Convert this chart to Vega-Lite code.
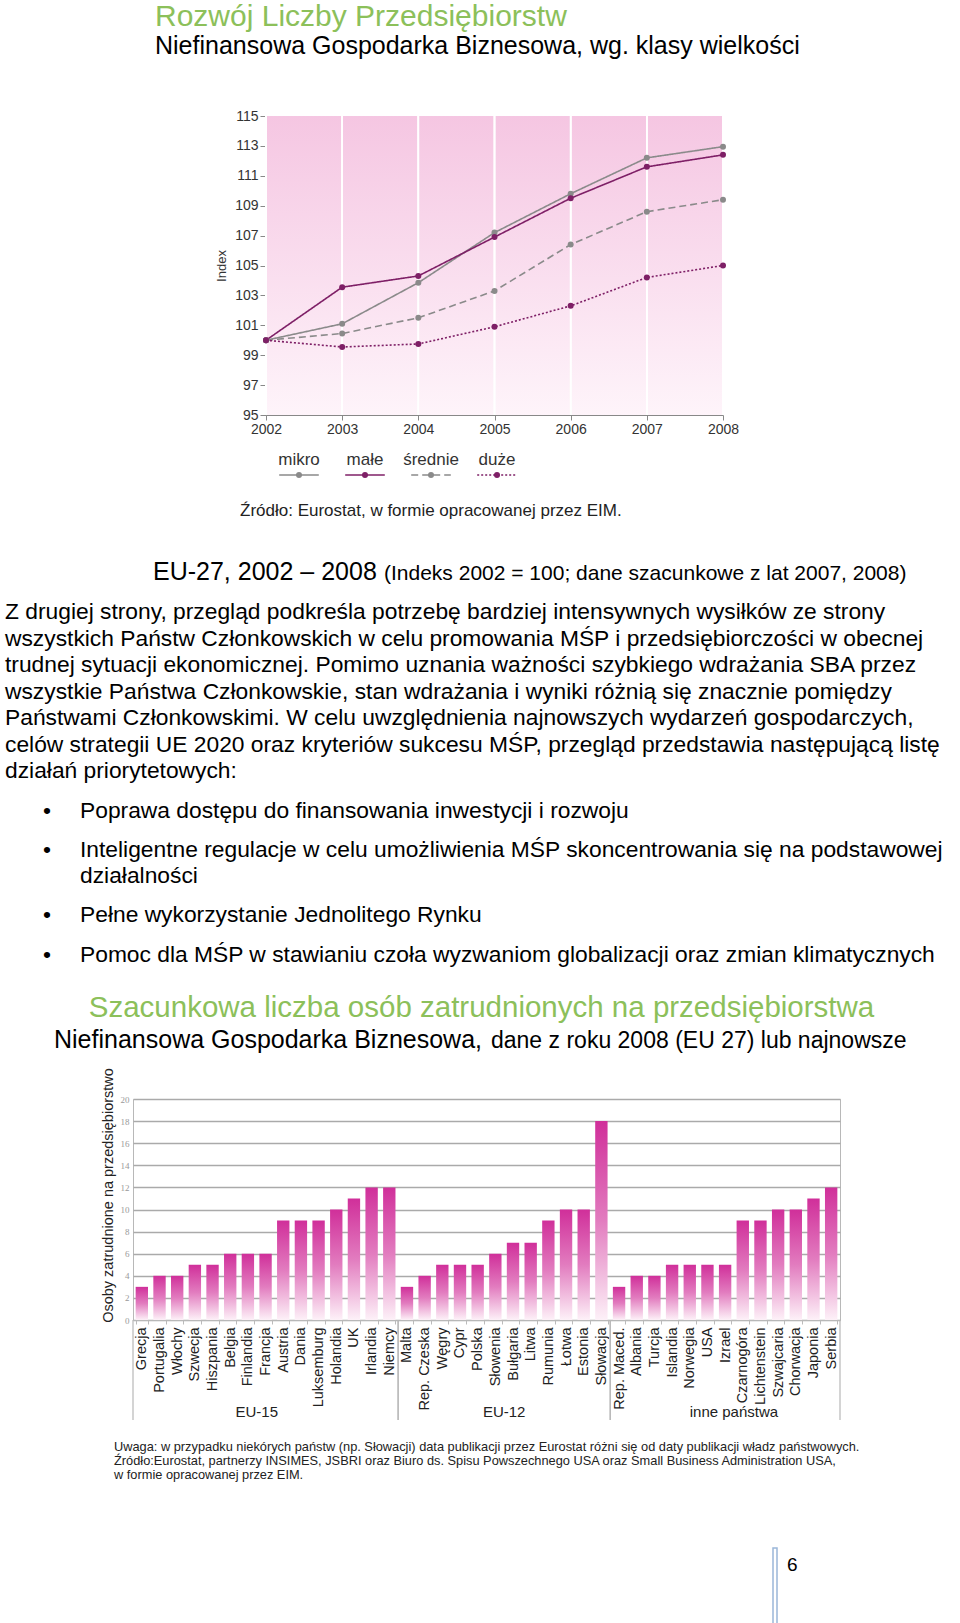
{
  "$schema": "https://vega.github.io/schema/vega-lite/v6.json",
  "padding": 0,
  "background": "white",
  "spacing": 0,
  "bounds": "full",
  "config": {
    "font": "Liberation Sans",
    "view": {"stroke": null},
    "title": {"font": "Liberation Sans", "subtitleFont": "Liberation Sans", "fontWeight": "normal", "subtitleFontWeight": "normal", "anchor": "start", "frame": "group", "orient": "top", "color": "#000000", "subtitleColor": "#000000"},
    "axis": {"titleFontWeight": "normal", "labelFont": "Liberation Sans", "titleFont": "Liberation Sans"}
  },
  "vconcat": [
    {
      "width": 960, "height": 97,
      "data": {"values": []}, "mark": "point",
      "title": {"text": "Rozwój Liczby Przedsiębiorstw", "subtitle": "Niefinansowa Gospodarka Biznesowa, wg. klasy wielkości", "fontSize": 30, "color": "#8cc05a", "subtitleFontSize": 25, "subtitlePadding": 2, "dx": 155, "offset": -59}
    },
    {
      "spacing": 0, "bounds": "flush",
      "hconcat": [
        {"width": 266, "height": 383, "data": {"values": []}, "mark": "point"},
        {
          "spacing": 0, "bounds": "flush",
          "vconcat": [
            {"width": 457, "height": 19, "data": {"values": []}, "mark": "point"},
            {
              "width": 457, "height": 299,
              "data": {"values": [
                {"series": "mikro", "year": 2002, "index": 100},
                {"series": "mikro", "year": 2003, "index": 101.1},
                {"series": "mikro", "year": 2004, "index": 103.85},
                {"series": "mikro", "year": 2005, "index": 107.2},
                {"series": "mikro", "year": 2006, "index": 109.8},
                {"series": "mikro", "year": 2007, "index": 112.2},
                {"series": "mikro", "year": 2008, "index": 112.95},
                {"series": "małe", "year": 2002, "index": 100},
                {"series": "małe", "year": 2003, "index": 103.55},
                {"series": "małe", "year": 2004, "index": 104.3},
                {"series": "małe", "year": 2005, "index": 106.9},
                {"series": "małe", "year": 2006, "index": 109.5},
                {"series": "małe", "year": 2007, "index": 111.6},
                {"series": "małe", "year": 2008, "index": 112.4},
                {"series": "średnie", "year": 2002, "index": 100},
                {"series": "średnie", "year": 2003, "index": 100.45},
                {"series": "średnie", "year": 2004, "index": 101.5},
                {"series": "średnie", "year": 2005, "index": 103.3},
                {"series": "średnie", "year": 2006, "index": 106.4},
                {"series": "średnie", "year": 2007, "index": 108.6},
                {"series": "średnie", "year": 2008, "index": 109.4},
                {"series": "duże", "year": 2002, "index": 100},
                {"series": "duże", "year": 2003, "index": 99.55},
                {"series": "duże", "year": 2004, "index": 99.75},
                {"series": "duże", "year": 2005, "index": 100.9},
                {"series": "duże", "year": 2006, "index": 102.3},
                {"series": "duże", "year": 2007, "index": 104.2},
                {"series": "duże", "year": 2008, "index": 105.0}
              ]},
              "layer": [
                {
                  "data": {"values": [{}]},
                  "mark": {"type": "rect", "fill": {"gradient": "linear", "x1": 0, "y1": 0, "x2": 0, "y2": 1, "stops": [{"offset": 0, "color": "#f5c6e2"}, {"offset": 1, "color": "#fef4fa"}]}, "stroke": null},
                  "encoding": {
                    "x": {"datum": 2002, "type": "quantitative", "scale": {"domain": [2002, 2008], "nice": false, "zero": false},
                      "axis": {"values": [2002, 2003, 2004, 2005, 2006, 2007, 2008], "tickCount": 7, "format": "d", "title": null, "grid": false, "labelFontSize": 14, "labelColor": "#333333", "domainColor": "#888888", "tickColor": "#888888", "tickSize": 5, "labelPadding": 2, "labelFlush": false, "labelOverlap": false}},
                    "x2": {"datum": 2008},
                    "y": {"datum": 95, "type": "quantitative", "scale": {"domain": [95, 115], "nice": false, "zero": false},
                      "axis": {"values": [95, 97, 99, 101, 103, 105, 107, 109, 111, 113, 115], "tickCount": 11, "title": "Index", "titleFontSize": 13, "titleColor": "#333333", "titlePadding": 6, "grid": false, "labelFontSize": 14, "labelColor": "#333333", "domainColor": "#888888", "tickColor": "#888888", "tickSize": 6, "labelPadding": 2, "labelOverlap": false}},
                    "y2": {"datum": 115}
                  }
                },
                {
                  "mark": {"type": "rule", "color": "#ffffff", "strokeWidth": 1.5},
                  "encoding": {"x": {"field": "year", "type": "quantitative"}}
                },
                {
                  "mark": {"type": "line", "strokeWidth": 1.6},
                  "encoding": {
                    "x": {"field": "year", "type": "quantitative"},
                    "y": {"field": "index", "type": "quantitative"},
                    "color": {"field": "series", "type": "nominal", "scale": {"domain": ["mikro", "małe", "średnie", "duże"], "range": ["#8a8a8a", "#7e1f66", "#8a8a8a", "#7e1f66"]}, "legend": null},
                    "strokeDash": {"field": "series", "type": "nominal", "scale": {"domain": ["mikro", "małe", "średnie", "duże"], "range": [[1, 0], [1, 0], [7, 4], [2, 2]]}, "legend": null}
                  }
                },
                {
                  "mark": {"type": "circle", "size": 36, "opacity": 1},
                  "encoding": {
                    "x": {"field": "year", "type": "quantitative"},
                    "y": {"field": "index", "type": "quantitative"},
                    "color": {"field": "series", "type": "nominal", "legend": null}
                  }
                }
              ]
            },
            {"width": 264, "height": 55, "data": {"values": []}, "mark": "point"},
            {
              "width": 264, "height": 10,
              "data": {"values": [{"series": "mikro"}, {"series": "małe"}, {"series": "średnie"}, {"series": "duże"}]},
              "layer": [
                {
                  "mark": {"type": "rule", "strokeWidth": 1.6},
                  "encoding": {
                    "x": {"field": "series", "type": "nominal", "bandPosition": 0.2, "sort": null,
                      "scale": {"type": "band", "domain": ["mikro", "małe", "średnie", "duże"], "paddingInner": 0, "paddingOuter": 0},
                      "axis": {"orient": "top", "title": null, "domain": false, "ticks": false, "labelFontSize": 17, "labelColor": "#333333", "labelPadding": 2, "labelAngle": 0}},
                    "x2": {"field": "series", "bandPosition": 0.8},
                    "color": {"field": "series", "type": "nominal", "scale": {"domain": ["mikro", "małe", "średnie", "duże"], "range": ["#8a8a8a", "#7e1f66", "#8a8a8a", "#7e1f66"]}, "legend": null},
                    "strokeDash": {"field": "series", "type": "nominal", "scale": {"domain": ["mikro", "małe", "średnie", "duże"], "range": [[1, 0], [1, 0], [7, 4], [2, 2]]}, "legend": null}
                  }
                },
                {
                  "mark": {"type": "circle", "size": 36, "opacity": 1},
                  "encoding": {
                    "x": {"field": "series", "type": "nominal", "sort": null},
                    "color": {"field": "series", "type": "nominal", "legend": null}
                  }
                }
              ]
            }
          ]
        }
      ]
    },
    {
      "width": 960, "height": 45,
      "data": {"values": []}, "mark": "point",
      "title": {"text": "Źródło: Eurostat, w formie opracowanej przez EIM.", "fontSize": 17, "color": "#222222", "dx": 240, "offset": -40}
    },
    {
      "spacing": 0, "bounds": "flush",
      "hconcat": [
        {"width": 384, "height": 65, "data": {"values": []}, "mark": "point",
          "title": {"text": "EU-27, 2002 – 2008", "fontSize": 25, "dx": 153, "offset": -60}},
        {"width": 576, "height": 65, "data": {"values": []}, "mark": "point",
          "title": {"text": "(Indeks 2002 = 100; dane szacunkowe z lat 2007, 2008)", "fontSize": 21, "dx": 0, "offset": -59}}
      ]
    },
    {
      "width": 960, "height": 200,
      "data": {"values": []}, "mark": "point",
      "title": {
        "text": [
          "Z drugiej strony, przegląd podkreśla potrzebę bardziej intensywnych wysiłków ze strony",
          "wszystkich Państw Członkowskich w celu promowania MŚP i przedsiębiorczości w obecnej",
          "trudnej sytuacji ekonomicznej. Pomimo uznania ważności szybkiego wdrażania SBA przez",
          "wszystkie Państwa Członkowskie, stan wdrażania i wyniki różnią się znacznie pomiędzy",
          "Państwami Członkowskimi. W celu uwzględnienia najnowszych wydarzeń gospodarczych,",
          "celów strategii UE 2020 oraz kryteriów sukcesu MŚP, przegląd przedstawia następującą listę",
          "działań priorytetowych:"
        ],
        "fontSize": 22.8, "lineHeight": 26.5, "dx": 5, "offset": -193
      }
    },
    {
      "spacing": 0, "bounds": "flush",
      "hconcat": [
        {"width": 80, "height": 35, "data": {"values": []}, "mark": "point",
          "title": {"text": "•", "fontSize": 22.8, "dx": 43, "offset": -33}},
        {"width": 880, "height": 35, "data": {"values": []}, "mark": "point",
          "title": {"text": "Poprawa dostępu do finansowania inwestycji i rozwoju", "fontSize": 22.8, "dx": 0, "offset": -33}}
      ]
    },
    {
      "spacing": 0, "bounds": "flush",
      "hconcat": [
        {"width": 80, "height": 65, "data": {"values": []}, "mark": "point",
          "title": {"text": "•", "fontSize": 22.8, "dx": 43, "offset": -37}},
        {"width": 880, "height": 65, "data": {"values": []}, "mark": "point",
          "title": {"text": ["Inteligentne regulacje w celu umożliwienia MŚP skoncentrowania się na podstawowej", "działalności"], "fontSize": 22.8, "lineHeight": 26, "dx": 0, "offset": -63}}
      ]
    },
    {
      "spacing": 0, "bounds": "flush",
      "hconcat": [
        {"width": 80, "height": 40, "data": {"values": []}, "mark": "point",
          "title": {"text": "•", "fontSize": 22.8, "dx": 43, "offset": -37}},
        {"width": 880, "height": 40, "data": {"values": []}, "mark": "point",
          "title": {"text": "Pełne wykorzystanie Jednolitego Rynku", "fontSize": 22.8, "dx": 0, "offset": -37}}
      ]
    },
    {
      "spacing": 0, "bounds": "flush",
      "hconcat": [
        {"width": 80, "height": 45, "data": {"values": []}, "mark": "point",
          "title": {"text": "•", "fontSize": 22.8, "dx": 43, "offset": -37}},
        {"width": 880, "height": 45, "data": {"values": []}, "mark": "point",
          "title": {"text": "Pomoc dla MŚP w stawianiu czoła wyzwaniom globalizacji oraz zmian klimatycznych", "fontSize": 22.8, "dx": 0, "offset": -37}}
      ]
    },
    {
      "width": 960, "height": 52,
      "data": {"values": []}, "mark": "point",
      "title": {"text": "Szacunkowa liczba osób zatrudnionych na przedsiębiorstwa", "fontSize": 29.5, "color": "#8cc05a", "anchor": "middle", "dx": 1.5, "offset": -48}
    },
    {
      "spacing": 0, "bounds": "flush",
      "hconcat": [
        {"width": 491, "height": 30, "data": {"values": []}, "mark": "point",
          "title": {"text": "Niefinansowa Gospodarka Biznesowa,", "fontSize": 25, "dx": 54, "offset": -26}},
        {"width": 469, "height": 30, "data": {"values": []}, "mark": "point",
          "title": {"text": "dane z roku 2008 (EU 27) lub najnowsze", "fontSize": 23, "dx": 0, "offset": -26}}
      ]
    },
    {
      "spacing": 0, "bounds": "flush",
      "hconcat": [
        {"width": 133, "height": 363, "data": {"values": []}, "mark": "point"},
        {
          "spacing": 0, "bounds": "flush",
          "vconcat": [
            {"width": 707, "height": 42, "data": {"values": []}, "mark": "point"},
            {
              "width": 707, "height": 221,
              "view": {"stroke": "#b8b8b8"},
              "data": {"values": [
                {"country": "Grecja", "group": "EU-15", "value": 3},
                {"country": "Portugalia", "group": "EU-15", "value": 4},
                {"country": "Włochy", "group": "EU-15", "value": 4},
                {"country": "Szwecja", "group": "EU-15", "value": 5},
                {"country": "Hiszpania", "group": "EU-15", "value": 5},
                {"country": "Belgia", "group": "EU-15", "value": 6},
                {"country": "Finlandia", "group": "EU-15", "value": 6},
                {"country": "Francja", "group": "EU-15", "value": 6},
                {"country": "Austria", "group": "EU-15", "value": 9},
                {"country": "Dania", "group": "EU-15", "value": 9},
                {"country": "Luksemburg", "group": "EU-15", "value": 9},
                {"country": "Holandia", "group": "EU-15", "value": 10},
                {"country": "UK", "group": "EU-15", "value": 11},
                {"country": "Irlandia", "group": "EU-15", "value": 12},
                {"country": "Niemcy", "group": "EU-15", "value": 12},
                {"country": "Malta", "group": "EU-12", "value": 3},
                {"country": "Rep. Czeska", "group": "EU-12", "value": 4},
                {"country": "Węgry", "group": "EU-12", "value": 5},
                {"country": "Cypr", "group": "EU-12", "value": 5},
                {"country": "Polska", "group": "EU-12", "value": 5},
                {"country": "Słowenia", "group": "EU-12", "value": 6},
                {"country": "Bułgaria", "group": "EU-12", "value": 7},
                {"country": "Litwa", "group": "EU-12", "value": 7},
                {"country": "Rumunia", "group": "EU-12", "value": 9},
                {"country": "Łotwa", "group": "EU-12", "value": 10},
                {"country": "Estonia", "group": "EU-12", "value": 10},
                {"country": "Słowacja", "group": "EU-12", "value": 18},
                {"country": "Rep. Maced.", "group": "inne państwa", "value": 3},
                {"country": "Albania", "group": "inne państwa", "value": 4},
                {"country": "Turcja", "group": "inne państwa", "value": 4},
                {"country": "Islandia", "group": "inne państwa", "value": 5},
                {"country": "Norwegia", "group": "inne państwa", "value": 5},
                {"country": "USA", "group": "inne państwa", "value": 5},
                {"country": "Izrael", "group": "inne państwa", "value": 5},
                {"country": "Czarnogóra", "group": "inne państwa", "value": 9},
                {"country": "Lichtenstein", "group": "inne państwa", "value": 9},
                {"country": "Szwajcaria", "group": "inne państwa", "value": 10},
                {"country": "Chorwacja", "group": "inne państwa", "value": 10},
                {"country": "Japonia", "group": "inne państwa", "value": 11},
                {"country": "Serbia", "group": "inne państwa", "value": 12}
              ]},
              "mark": {"type": "bar", "color": {"gradient": "linear", "x1": 0, "y1": 0, "x2": 0, "y2": 1, "stops": [{"offset": 0, "color": "#d02f9a"}, {"offset": 0.5, "color": "#e27cbf"}, {"offset": 1, "color": "#fdf1f8"}]}},
              "encoding": {
                "x": {"field": "country", "type": "nominal", "sort": null,
                  "scale": {"paddingInner": 0.3, "paddingOuter": 0.15},
                  "axis": {"title": null, "labelAngle": -90, "labelFontSize": 14.5, "labelColor": "#222222", "labelPadding": 3, "tickBand": "extent", "tickSize": 4, "tickColor": "#bbbbbb", "domainColor": "#b8b8b8", "labelLimit": 0}},
                "y": {"field": "value", "type": "quantitative",
                  "scale": {"domain": [0, 20], "nice": false},
                  "axis": {"values": [0, 2, 4, 6, 8, 10, 12, 14, 16, 18, 20], "tickCount": 11, "title": "Osoby zatrudnione na przedsiębiorstwo", "titleFontSize": 14.5, "titleColor": "#222222", "titlePadding": 5, "titleY": 96, "labelFontSize": 9, "labelColor": "#999999", "labelFont": "Liberation Serif", "labelPadding": 4, "domain": false, "ticks": false, "grid": true, "gridColor": "#aaaaaa", "gridWidth": 1.5}}
              }
            },
            {
              "width": 707, "height": 100,
              "data": {"values": [
                {"group": "EU-15", "first": "Grecja", "last": "Niemcy", "at": "Francja"},
                {"group": "EU-12", "first": "Malta", "last": "Słowacja", "at": "Bułgaria"},
                {"group": "inne państwa", "first": "Rep. Maced.", "last": "Serbia", "at": "Czarnogóra"}
              ]},
              "layer": [
                {
                  "mark": {"type": "rule", "color": "#b8b8b8", "strokeWidth": 1.2},
                  "encoding": {"x": {"field": "first", "type": "nominal", "bandPosition": 0,
                    "scale": {"type": "band", "paddingInner": 0, "paddingOuter": 0, "domain": ["Grecja", "Portugalia", "Włochy", "Szwecja", "Hiszpania", "Belgia", "Finlandia", "Francja", "Austria", "Dania", "Luksemburg", "Holandia", "UK", "Irlandia", "Niemcy", "Malta", "Rep. Czeska", "Węgry", "Cypr", "Polska", "Słowenia", "Bułgaria", "Litwa", "Rumunia", "Łotwa", "Estonia", "Słowacja", "Rep. Maced.", "Albania", "Turcja", "Islandia", "Norwegia", "USA", "Izrael", "Czarnogóra", "Lichtenstein", "Szwajcaria", "Chorwacja", "Japonia", "Serbia"]},
                    "axis": null}}
                },
                {
                  "mark": {"type": "rule", "color": "#b8b8b8", "strokeWidth": 1.2},
                  "encoding": {"x": {"field": "last", "type": "nominal", "bandPosition": 1, "axis": null}}
                },
                {
                  "mark": {"type": "text", "fontSize": 15, "baseline": "bottom", "align": "center", "color": "#222222"},
                  "encoding": {
                    "x": {"field": "at", "type": "nominal", "bandPosition": 0, "axis": null},
                    "y": {"value": "height"},
                    "text": {"field": "group"}
                  }
                }
              ]
            }
          ]
        }
      ]
    },
    {
      "width": 960, "height": 126,
      "data": {"values": []}, "mark": "point",
      "title": {"text": [
        "Uwaga: w przypadku niekórych państw (np. Słowacji) data publikacji przez Eurostat różni się od daty publikacji władz państwowych.",
        "Źródło:Eurostat, partnerzy INSIMES, JSBRI oraz Biuro ds. Spisu Powszechnego USA oraz Small Business Administration USA,",
        "w formie opracowanej przez EIM."
      ], "fontSize": 12.8, "lineHeight": 14, "color": "#222222", "dx": 114, "offset": -61}
    },
    {
      "spacing": 0, "bounds": "flush",
      "hconcat": [
        {"width": 773, "height": 77, "data": {"values": []}, "mark": "point"},
        {"width": 4, "height": 77, "view": {"stroke": "#9bb7d9", "strokeWidth": 1.5}, "data": {"values": []}, "mark": "point"},
        {"width": 40, "height": 77, "data": {"values": []}, "mark": "point",
          "title": {"text": "6", "fontSize": 19, "dx": 10, "offset": -27}}
      ]
    }
  ]
}
